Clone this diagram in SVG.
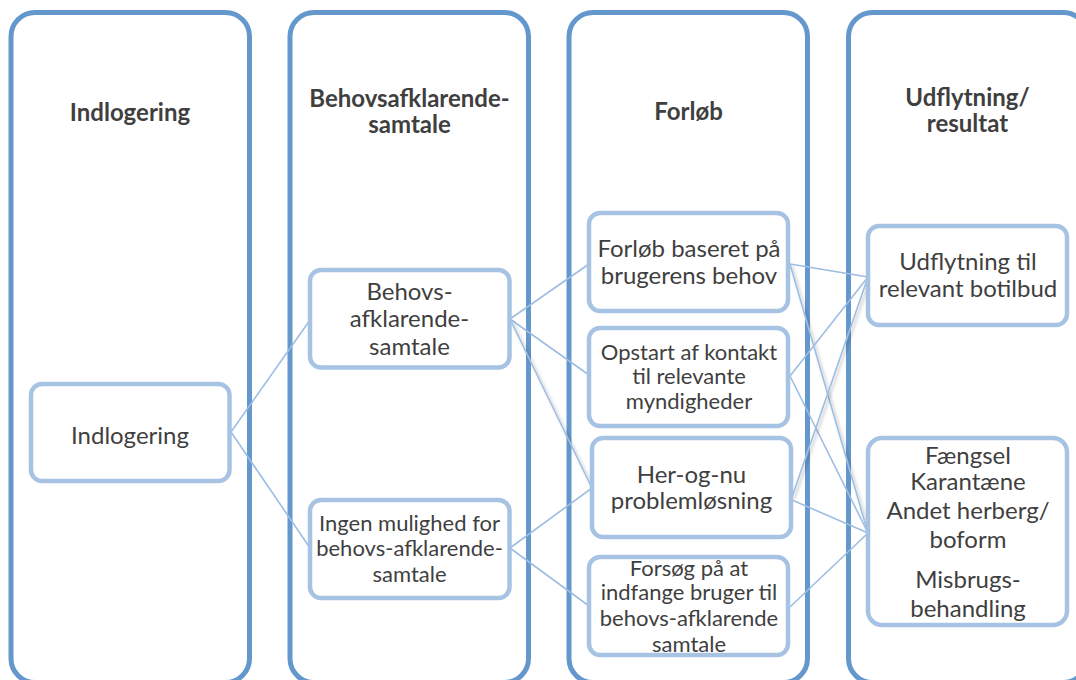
<svg xmlns="http://www.w3.org/2000/svg" width="1076" height="680" viewBox="0 0 1076 680">
<defs>
<style>
.col{fill:#ffffff;stroke:#6497cc;stroke-width:5}
.node{fill:#ffffff;stroke:#a7c3e3;stroke-width:4.5}
.hdr{font-family:Lato,"Liberation Sans",sans-serif;font-weight:bold;font-size:24px;fill:#3f3f3f;text-anchor:middle}
.t{font-family:Lato,"Liberation Sans",sans-serif;font-size:24px;fill:#3f3f3f;text-anchor:middle}
.s{font-family:Lato,"Liberation Sans",sans-serif;font-size:22px;fill:#3f3f3f;text-anchor:middle}
.c{stroke:#9dbde2;stroke-width:1.6;fill:none}
</style>
<filter id="sh" x="-20%" y="-20%" width="140%" height="140%">
<feDropShadow dx="2" dy="2" stdDeviation="1.5" flood-color="#000" flood-opacity="0.25"/>
</filter>
</defs>
<rect width="1076" height="680" fill="#ffffff"/>
<g id="col-indlogering">
<rect class="col" x="11" y="12.5" width="238.5" height="670" rx="24"/>
<text class="hdr" x="130" y="121">Indlogering</text>
</g>
<g id="col-behov">
<rect class="col" x="290" y="12.5" width="238.5" height="670" rx="24"/>
<text class="hdr" x="409.5" y="107">Behovsafklarende-</text>
<text class="hdr" x="409.5" y="133">samtale</text>
</g>
<g id="col-forloeb">
<rect class="col" x="569" y="12.5" width="238.5" height="670" rx="24"/>
<text class="hdr" x="688.5" y="120">Forløb</text>
</g>
<g id="col-udflytning">
<rect class="col" x="848.5" y="12.5" width="238.5" height="670" rx="24"/>
<text class="hdr" x="967.5" y="106">Udflytning/</text>
<text class="hdr" x="967.5" y="132">resultat</text>
</g>
<g id="connectors">
<line class="c" x1="231" y1="432" x2="310" y2="320"/>
<line class="c" x1="231" y1="432" x2="310" y2="548"/>
<line class="c" x1="510" y1="319" x2="589" y2="264"/>
<line class="c" x1="510" y1="319" x2="589" y2="375"/>
<line class="c" x1="510" y1="319" x2="592" y2="488" filter="url(#sh)"/>
<line class="c" x1="510" y1="548" x2="592" y2="488"/>
<line class="c" x1="510" y1="548" x2="589" y2="606"/>
<line class="c" x1="790" y1="264" x2="868" y2="277"/>
<line class="c" x1="790" y1="264" x2="868" y2="533" filter="url(#sh)"/>
<line class="c" x1="790" y1="376" x2="868" y2="277"/>
<line class="c" x1="790" y1="376" x2="868" y2="533"/>
<line class="c" x1="792" y1="497" x2="868" y2="277" filter="url(#sh)"/>
<line class="c" x1="792" y1="500" x2="868" y2="533"/>
<line class="c" x1="790" y1="607" x2="868" y2="533"/>
</g>
<g id="n-indlogering">
<rect class="node" x="31" y="384" width="198.5" height="97" rx="11"/>
<text class="t" x="130" y="444">Indlogering</text>
</g>
<g id="n-behovs">
<rect class="node" x="310" y="270" width="199.5" height="97.5" rx="11"/>
<text class="t" x="409.5" y="300">Behovs-</text>
<text class="t" x="409.5" y="327">afklarende-</text>
<text class="t" x="409.5" y="355">samtale</text>
</g>
<g id="n-ingen">
<rect class="node" x="310" y="500" width="199.5" height="98" rx="11"/>
<text class="s" x="409.5" y="531">Ingen mulighed for</text>
<text class="s" x="409.5" y="556">behovs-afklarende-</text>
<text class="s" x="409.5" y="582">samtale</text>
</g>
<g id="n-forloeb-baseret">
<rect class="node" x="589" y="213" width="199" height="98" rx="11"/>
<text class="t" x="689" y="257">Forløb baseret på</text>
<text class="t" x="689" y="284">brugerens behov</text>
</g>
<g id="n-opstart">
<rect class="node" x="589" y="328" width="199" height="98" rx="11"/>
<text class="s" x="689" y="360">Opstart af kontakt</text>
<text class="s" x="689" y="384">til relevante</text>
<text class="s" x="689" y="409">myndigheder</text>
</g>
<g id="n-her-og-nu">
<rect class="node" x="592" y="438" width="199" height="99" rx="11"/>
<text class="t" x="691.5" y="483">Her-og-nu</text>
<text class="t" x="691.5" y="509">problemløsning</text>
</g>
<g id="n-forsoeg">
<rect class="node" x="589" y="557" width="199" height="98" rx="11"/>
<text class="s" x="689" y="576">Forsøg på at</text>
<text class="s" x="689" y="600">indfange bruger til</text>
<text class="s" x="689" y="626">behovs-afklarende</text>
<text class="s" x="689" y="652">samtale</text>
</g>
<g id="n-udflytning">
<rect class="node" x="868" y="226" width="199" height="99" rx="11"/>
<text class="t" x="968" y="270">Udflytning til</text>
<text class="t" x="968" y="297">relevant botilbud</text>
</g>
<g id="n-faengsel">
<rect class="node" x="868" y="438" width="199" height="187" rx="14"/>
<text class="t" x="968" y="464">Fængsel</text>
<text class="t" x="968" y="490">Karantæne</text>
<text class="t" x="968" y="519">Andet herberg/</text>
<text class="t" x="968" y="548">boform</text>
<text class="t" x="968" y="588">Misbrugs-</text>
<text class="t" x="968" y="617">behandling</text>
</g>
</svg>
